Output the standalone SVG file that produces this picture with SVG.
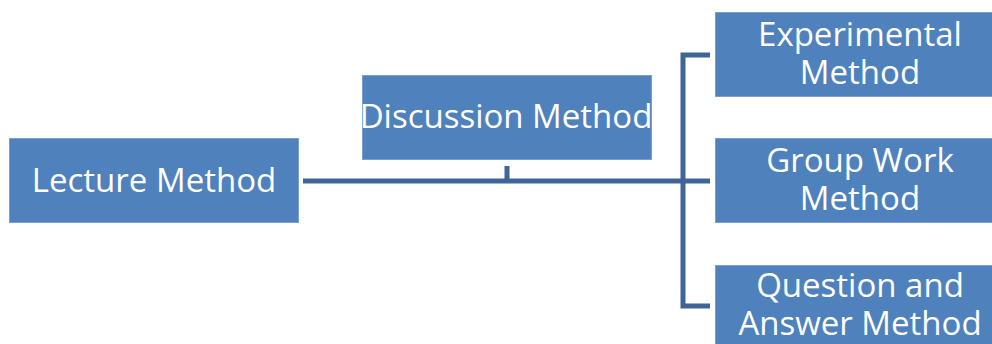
<svg xmlns="http://www.w3.org/2000/svg" width="992" height="344" viewBox="0 0 992 344">
<style>
.box{fill:#4F81BD;stroke:#7A9FCE;stroke-width:1}
.t{font-family:"Open Sans","Liberation Sans",sans-serif;font-size:33px;fill:#FFFFFF;text-anchor:middle}
.c{stroke:#3F6496;stroke-width:5;fill:none}
</style>
<rect width="992" height="344" fill="#FFFFFF"/>
<g id="connectors">
<path class="c" d="M303 181 H683"/>
<path class="c" d="M507 166 V181"/>
<path class="c" d="M710 55 H683 V306 H710"/>
<path class="c" d="M683 181 H710"/>
</g>
<g id="lecture">
<rect class="box" x="9.5" y="138.5" width="289" height="84"/>
<text class="t" x="154" y="192">Lecture Method</text>
</g>
<g id="discussion">
<rect class="box" x="362.5" y="75.5" width="289" height="84"/>
<text class="t" x="506" y="128">Discussion Method</text>
</g>
<g id="experimental">
<rect class="box" x="715.5" y="12.5" width="289" height="84"/>
<text class="t" x="860" y="46">Experimental</text>
<text class="t" x="860" y="84">Method</text>
</g>
<g id="groupwork">
<rect class="box" x="715.5" y="138.5" width="289" height="84"/>
<text class="t" x="860" y="172">Group Work</text>
<text class="t" x="860" y="210">Method</text>
</g>
<g id="qa">
<rect class="box" x="715.5" y="265.5" width="289" height="84"/>
<text class="t" x="860" y="297">Question and</text>
<text class="t" x="860" y="335">Answer Method</text>
</g>
</svg>
